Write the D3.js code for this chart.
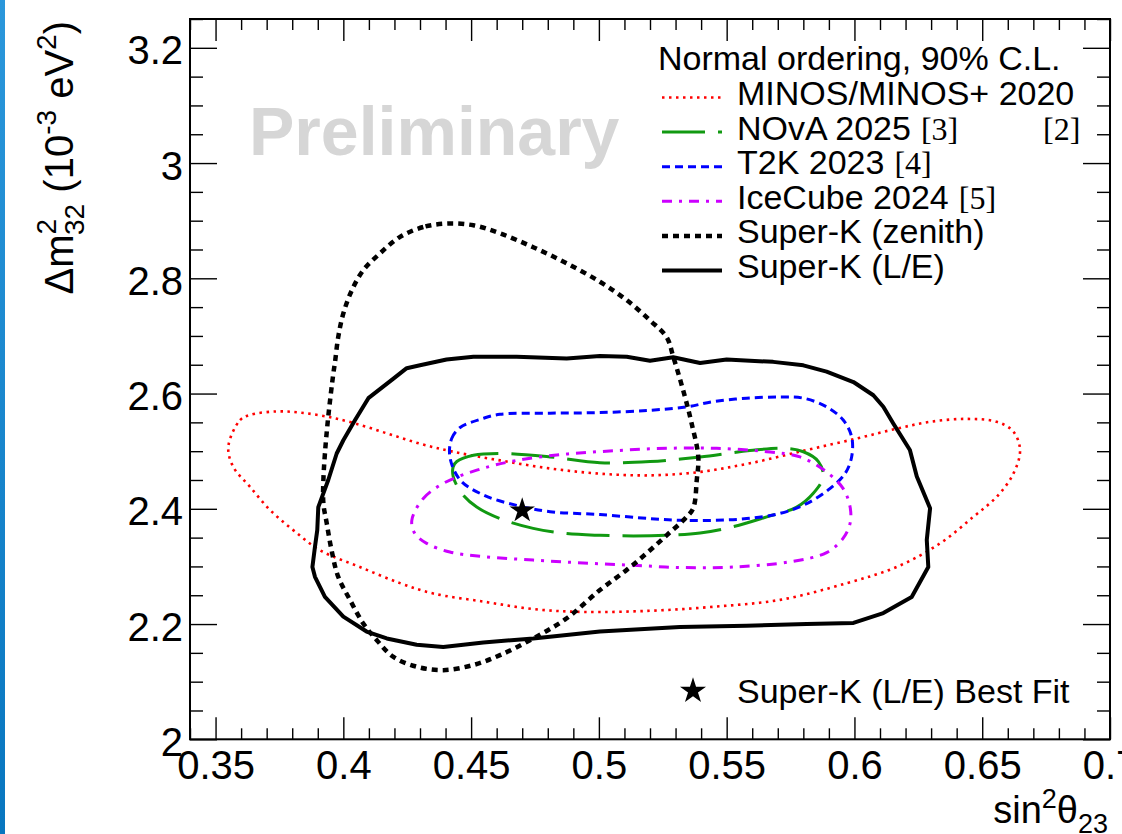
<!DOCTYPE html>
<html><head><meta charset="utf-8">
<script src="https://cdn.jsdelivr.net/npm/d3@7"></script>
<style>html,body{margin:0;padding:0;background:#fff;overflow:hidden}
svg{display:block;font-family:"Liberation Sans",Arial,Helvetica,sans-serif}</style>
</head><body><svg id="c" width="1122" height="834"></svg>
<script>
// ---------- axis ticks ----------
const xTicksMajor = [0.35,0.40,0.45,0.50,0.55,0.60,0.65,0.70];
const xTickLabels = ["0.35","0.4","0.45","0.5","0.55","0.6","0.65","0.7"];
const yTicksMajor = [2.0,2.2,2.4,2.6,2.8,3.0,3.2];
const yTickLabels = ["2","2.2","2.4","2.6","2.8","3","3.2"];

// ---------- contours (sin^2 theta23, dm2_32 [1e-3 eV^2]) ----------
const minos = [[0.3550,2.508],[0.3596,2.554],[0.3635,2.563],[0.3739,2.569],[0.3830,2.567],[0.3935,2.560],[0.4039,2.549],[0.4170,2.531],[0.4300,2.513],[0.4430,2.499],[0.4613,2.484],[0.4809,2.470],[0.5004,2.461],[0.5200,2.458],[0.5396,2.464],[0.5591,2.479],[0.5813,2.502],[0.6009,2.522],[0.6165,2.539],[0.6296,2.551],[0.6439,2.556],[0.6557,2.551],[0.6622,2.534],[0.6648,2.502],[0.6622,2.461],[0.6557,2.421],[0.6465,2.386],[0.6335,2.340],[0.6165,2.299],[0.5970,2.271],[0.5709,2.242],[0.5448,2.230],[0.5200,2.223],[0.4939,2.221],[0.4743,2.226],[0.4548,2.239],[0.4352,2.253],[0.4222,2.271],[0.4065,2.299],[0.3909,2.328],[0.3804,2.363],[0.3713,2.398],[0.3635,2.438],[0.3569,2.473]];

const nova = [[0.4430,2.473],[0.4444,2.482],[0.4509,2.493],[0.4613,2.496],[0.4809,2.490],[0.5004,2.480],[0.5200,2.482],[0.5396,2.490],[0.5591,2.501],[0.5722,2.505],[0.5800,2.499],[0.5859,2.482],[0.5878,2.456],[0.5839,2.427],[0.5774,2.403],[0.5657,2.386],[0.5526,2.369],[0.5396,2.358],[0.5265,2.354],[0.5135,2.353],[0.5004,2.354],[0.4874,2.357],[0.4743,2.366],[0.4613,2.383],[0.4522,2.403],[0.4463,2.427],[0.4430,2.456]];

const t2k = [[0.4417,2.490],[0.4424,2.522],[0.4457,2.541],[0.4548,2.557],[0.4613,2.564],[0.4809,2.566],[0.5004,2.567],[0.5200,2.571],[0.5344,2.577],[0.5448,2.586],[0.5578,2.592],[0.5709,2.594],[0.5800,2.592],[0.5891,2.577],[0.5956,2.554],[0.5989,2.525],[0.5989,2.490],[0.5963,2.461],[0.5904,2.435],[0.5813,2.409],[0.5709,2.392],[0.5578,2.383],[0.5448,2.380],[0.5317,2.380],[0.5200,2.383],[0.5004,2.390],[0.4809,2.395],[0.4678,2.406],[0.4548,2.424],[0.4457,2.450]];

const icecube = [[0.4268,2.380],[0.4313,2.418],[0.4391,2.444],[0.4522,2.467],[0.4678,2.484],[0.4874,2.495],[0.5070,2.501],[0.5265,2.505],[0.5461,2.505],[0.5657,2.499],[0.5787,2.490],[0.5891,2.464],[0.5956,2.435],[0.5983,2.403],[0.5983,2.375],[0.5956,2.349],[0.5891,2.324],[0.5748,2.308],[0.5526,2.299],[0.5330,2.298],[0.5135,2.302],[0.4939,2.306],[0.4743,2.311],[0.4548,2.317],[0.4417,2.325],[0.4326,2.340],[0.4280,2.357]];

const skZenith = [[0.4404,2.895],[0.4313,2.889],[0.4222,2.872],[0.4143,2.843],[0.4078,2.814],[0.4033,2.779],[0.4000,2.739],[0.3980,2.698],[0.3967,2.653],[0.3961,2.635],[0.3941,2.560],[0.3928,2.496],[0.3922,2.450],[0.3922,2.409],[0.3935,2.375],[0.3954,2.328],[0.3980,2.282],[0.4026,2.242],[0.4078,2.201],[0.4131,2.172],[0.4196,2.143],[0.4287,2.126],[0.4391,2.120],[0.4509,2.129],[0.4613,2.146],[0.4743,2.175],[0.4874,2.210],[0.5004,2.259],[0.5109,2.294],[0.5187,2.323],[0.5265,2.354],[0.5337,2.383],[0.5369,2.401],[0.5383,2.450],[0.5389,2.490],[0.5363,2.548],[0.5337,2.594],[0.5291,2.664],[0.5265,2.698],[0.5200,2.727],[0.5109,2.762],[0.5004,2.794],[0.4874,2.826],[0.4743,2.854],[0.4613,2.878],[0.4509,2.892]];

const skLE = [[0.4248,2.644],[0.4300,2.649],[0.4404,2.659],[0.4509,2.664],[0.4678,2.664],[0.4874,2.661],[0.5004,2.665],[0.5109,2.664],[0.5200,2.657],[0.5291,2.663],[0.5396,2.653],[0.5500,2.659],[0.5682,2.655],[0.5800,2.649],[0.5891,2.638],[0.5996,2.620],[0.6074,2.597],[0.6113,2.577],[0.6152,2.548],[0.6217,2.502],[0.6244,2.456],[0.6296,2.401],[0.6283,2.346],[0.6289,2.299],[0.6224,2.247],[0.6113,2.219],[0.5996,2.202],[0.5813,2.200],[0.5578,2.197],[0.5317,2.195],[0.5004,2.187],[0.4743,2.175],[0.4548,2.168],[0.4391,2.160],[0.4287,2.164],[0.4170,2.175],[0.4091,2.187],[0.4000,2.213],[0.3928,2.247],[0.3889,2.282],[0.3879,2.299],[0.3889,2.334],[0.3898,2.363],[0.3902,2.403],[0.3941,2.450],[0.3974,2.496],[0.4000,2.519],[0.4046,2.554],[0.4098,2.592],[0.4196,2.626]];

const bestFit = [0.470, 2.397];

// ---------- legend ----------
const legendHeader = "Normal ordering, 90% C.L.";
const legendLabels = ["MINOS/MINOS+ 2020","NOvA 2025","T2K 2023","IceCube 2024","Super-K (zenith)","Super-K (L/E)"];
const legendRefs = ["","[3]","[4]","[5]","",""];
const bestFitLabel = "Super-K (L/E) Best Fit";

// ---------- styles ----------
const styles = [
  {color:"#ff0000", width:2.6, dash:"2.5,4.5", curve:"smooth"},
  {color:"#119911", width:3,   dash:"43,13",   curve:"smooth"},
  {color:"#0000ff", width:3,   dash:"8,5",     curve:"smooth"},
  {color:"#cc00ff", width:3,   dash:"10,7,3,7",curve:"smooth"},
  {color:"#000000", width:4.5, dash:"6,5",     curve:"smooth"},
  {color:"#000000", width:4,   dash:null,      curve:"linear"}
];
const series = [minos, nova, t2k, icecube, skZenith, skLE];

// ---------- drawing ----------
const svg = d3.select("#c");
svg.append("rect").attr("width",1122).attr("height",834).attr("fill","#fff");
const grad = svg.append("defs").append("linearGradient").attr("id","bar").attr("x1",0).attr("y1",0).attr("x2",0).attr("y2",1);
grad.append("stop").attr("offset","0%").attr("stop-color","#2b97db");
grad.append("stop").attr("offset","100%").attr("stop-color","#0876bf");
svg.append("rect").attr("x",0).attr("y",0).attr("width",5).attr("height",834).attr("fill","url(#bar)");

const x = d3.scaleLinear().domain([0.34,0.70]).range([190,1110]);
const y = d3.scaleLinear().domain([2.0,3.25]).range([739.3,19]);

const isMajX = v => Math.abs(v*20 - Math.round(v*20)) < 1e-6;
const isMajY = v => Math.abs(v*5 - Math.round(v*5)) < 1e-6;
const xMinor = d3.range(34,71).map(v=>v/100).filter(v=>!isMajX(v));
const yMinor = d3.range(41,66).map(v=>v/20).filter(v=>!isMajY(v));

function styleAxis(g){
  g.select(".domain").remove();
  g.selectAll(".tick line").attr("stroke","#000").attr("stroke-width",1.4);
  g.selectAll("text").attr("font-size",40).attr("fill","#000")
   .attr("font-family",'"Liberation Sans",Arial,Helvetica,sans-serif');
  g.attr("font-family",null).attr("font-size",null);
}
const y0 = y(2.0), yTop = y(3.25), xL = x(0.34), xR = x(0.70);

// bottom
svg.append("g").attr("transform",`translate(0,${y0})`)
  .call(d3.axisBottom(x).tickValues(xTicksMajor).tickSize(-22).tickPadding(11).tickFormat((d,i)=>xTickLabels[i]))
  .call(styleAxis);
svg.append("g").attr("transform",`translate(0,${y0})`)
  .call(d3.axisBottom(x).tickValues(xMinor).tickSize(-11).tickFormat("")).call(styleAxis);
// top
svg.append("g").attr("transform",`translate(0,${yTop})`)
  .call(d3.axisTop(x).tickValues(xTicksMajor).tickSize(-22).tickFormat("")).call(styleAxis);
svg.append("g").attr("transform",`translate(0,${yTop})`)
  .call(d3.axisTop(x).tickValues(xMinor).tickSize(-11).tickFormat("")).call(styleAxis);
// left
const gy = svg.append("g").attr("transform",`translate(${xL},0)`)
  .call(d3.axisLeft(y).tickValues(yTicksMajor).tickSize(-27).tickPadding(7).tickFormat((d,i)=>yTickLabels[i]))
  .call(styleAxis);
gy.selectAll("text").attr("dy","0.4em");
svg.append("g").attr("transform",`translate(${xL},0)`)
  .call(d3.axisLeft(y).tickValues(yMinor).tickSize(-13).tickFormat("")).call(styleAxis);
// right
svg.append("g").attr("transform",`translate(${xR},0)`)
  .call(d3.axisRight(y).tickValues(yTicksMajor).tickSize(-27).tickFormat("")).call(styleAxis);
svg.append("g").attr("transform",`translate(${xR},0)`)
  .call(d3.axisRight(y).tickValues(yMinor).tickSize(-13).tickFormat("")).call(styleAxis);

// Preliminary
svg.append("text").attr("x",249).attr("y",155).attr("font-size",68).attr("font-weight","bold")
  .attr("fill","#d6d6d6").text("Preliminary");

// contours
const smooth = d3.line().x(d=>x(d[0])).y(d=>y(d[1])).curve(d3.curveCatmullRomClosed.alpha(0.5));
const linear = d3.line().x(d=>x(d[0])).y(d=>y(d[1])).curve(d3.curveLinearClosed);
series.forEach((s,i)=>{
  const st = styles[i];
  svg.append("path").attr("d",(st.curve==="smooth"?smooth:linear)(s))
    .attr("fill","none").attr("stroke",st.color).attr("stroke-width",st.width)
    .attr("stroke-dasharray",st.dash).attr("stroke-linejoin","round");
});

// best fit star
const star = d3.symbol().type(d3.symbolStar).size(200);
svg.append("path").attr("d",star()).attr("transform",`translate(${x(bestFit[0])},${y(bestFit[1])})`).attr("fill","#000");

// frame
svg.append("rect").attr("x",xL).attr("y",yTop).attr("width",xR-xL).attr("height",y0-yTop)
  .attr("fill","none").attr("stroke","#000").attr("stroke-width",2);

// legend
const lg = svg.append("g").attr("font-size",34).attr("fill","#000");
lg.append("text").attr("x",658).attr("y",70).text(legendHeader);
legendLabels.forEach((lab,i)=>{
  const by = 105 + i*34.6;
  const st = styles[i];
  lg.append("line").attr("x1",662).attr("x2",722).attr("y1",by-7.5).attr("y2",by-7.5)
    .attr("stroke",st.color).attr("stroke-width",st.width).attr("stroke-dasharray",st.dash);
  const t = lg.append("text").attr("x",737).attr("y",by).text(lab);
  if(legendRefs[i]) t.append("tspan").attr("dx",10).attr("font-family",'"Liberation Serif","Times New Roman",serif').attr("font-size",32).text(legendRefs[i]);
});
lg.append("text").attr("x",1043).attr("y",140).attr("font-family",'"Liberation Serif","Times New Roman",serif').attr("font-size",32).text("[2]");
lg.append("path").attr("d",d3.symbol().type(d3.symbolStar).size(210)()).attr("transform","translate(693,691)").attr("fill","#000");
lg.append("text").attr("x",737).attr("y",703).text(bestFitLabel);

// axis titles
const xt = svg.append("text").attr("x",1108).attr("y",823).attr("text-anchor","end").attr("font-size",38);
xt.append("tspan").text("sin");
xt.append("tspan").attr("font-size",27).attr("dy",-15).text("2");
xt.append("tspan").attr("dy",15).text("θ");
xt.append("tspan").attr("font-size",27).attr("dy",10).text("23");

const yt = svg.append("text").attr("transform","translate(73,21) rotate(-90)").attr("text-anchor","end").attr("font-size",40);
yt.append("tspan").text("Δm");
yt.append("tspan").attr("font-size",28).attr("dy",-17).text("2");
yt.append("tspan").attr("font-size",28).attr("dx",-16).attr("dy",28).text("32");
yt.append("tspan").attr("dy",-11).text(" (10");
yt.append("tspan").attr("font-size",28).attr("dy",-17).text("-3");
yt.append("tspan").attr("dy",17).text(" eV");
yt.append("tspan").attr("font-size",28).attr("dy",-17).text("2");
yt.append("tspan").attr("dy",17).text(")");
</script></body></html>
